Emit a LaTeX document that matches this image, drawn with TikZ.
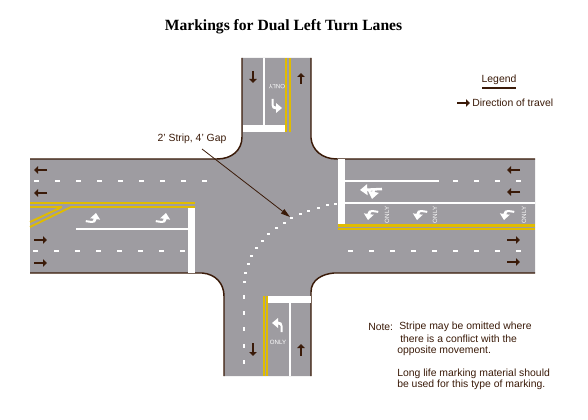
\documentclass[tikz,border=0pt]{standalone}
\usepackage{fontspec}
\setmainfont{Liberation Sans}
\newfontfamily\titlefont{Liberation Serif}
\usetikzlibrary{arrows.meta}
\definecolor{roadgray}{HTML}{9E9CA1}
\definecolor{edgebrown}{HTML}{3A1A08}
\definecolor{stripeyellow}{HTML}{E0BC00}
\tikzstyle{curb} = [draw=edgebrown, line width=1.1pt]
\tikzstyle{yline} = [draw=stripeyellow, line width=1.4pt]
\tikzstyle{wline} = [draw=white, line width=1.6pt]
\tikzstyle{bar} = [fill=white, draw=none]
\tikzstyle{travel} = [draw=edgebrown, line width=2pt, -{Triangle[length=3pt,width=5.5pt]}]
\tikzstyle{turn} = [draw=white, line width=1.9pt, -{Triangle[length=5.5pt,width=8pt]}]
\tikzstyle{lbl} = [text=edgebrown, font=\fontsize{7.8}{9}\selectfont, inner sep=0pt, anchor=west]
\tikzstyle{only} = [text=white, font=\fontsize{4.6}{5}\selectfont, inner sep=0pt]
\newcommand{\hdash}[2]{\fill[white] (#1,#2-1) rectangle ++(5,2);}
% tip at #1,#2, turned by #3
\newcommand{\turnmark}[3]{\fill[white, shift={(#1,#2)}, rotate=#3] (0,0) -- (5,6) -- (1.5,6)
  .. controls (1.5,9) and (0,10.5) .. (-3,10.5) -- (-9,10.5) -- (-9,8.5) -- (-3,8.5)
  .. controls (-2,8.5) and (-1.5,7.5) .. (-1.5,6) -- (-5,6) -- cycle;}
\begin{document}
\begin{tikzpicture}[x=0.75pt,y=-0.75pt]
\useasboundingbox (0,0) rectangle (588,420);
% pavement
\fill[roadgray] (30,159) -- (217,159) .. controls (232,159) and (242,150) .. (242,137) -- (242,58)
  -- (311,58) -- (311,138) .. controls (312,150) and (322,159) .. (337,159) -- (535,159)
  -- (535,273) -- (334,273) .. controls (322,274) and (311,280) .. (311,292) -- (311,376)
  -- (224,376) -- (224,296) .. controls (224,284) and (216,274) .. (202,273) -- (30,273) -- cycle;
\draw[curb] (30,159) -- (217,159) .. controls (232,159) and (242,150) .. (242,137) -- (242,58);
\draw[curb] (311,58) -- (311,138) .. controls (312,150) and (322,159) .. (337,159) -- (535,159);
\draw[curb] (535,273) -- (334,273) .. controls (322,274) and (311,280) .. (311,292) -- (311,376);
\draw[curb] (224,376) -- (224,296) .. controls (224,284) and (216,274) .. (202,273) -- (30,273);
% west leg
\foreach \x in {34,55,...,202} {\hdash{\x}{181}}
\foreach \x in {33,54,...,180} {\hdash{\x}{251}}
\draw[yline] (30,202.8) -- (195,202.8);
\draw[yline] (30,206.8) -- (62,206.8);
\draw[yline] (71,206.8) -- (195,206.8);
\draw[yline] (30,222) -- (62,207);
\draw[yline] (30,227) -- (71,207);
\fill[bar] (188,208) rectangle (195,273);
\draw[wline] (76,229) -- (188,229);
\turnmark{96}{213}{-8}
\turnmark{166}{213}{-8}
\draw[travel] (47,170) -- (34,170);
\draw[travel] (47,193) -- (34,193);
\draw[travel] (34,240) -- (47,240);
\draw[travel] (34,263) -- (47,263);
% east leg
\fill[bar] (338,159) rectangle (345,224);
\draw[wline] (345,181) -- (439,181);
\foreach \x in {453,474,...,516} {\hdash{\x}{181}}
\draw[wline] (345,203) -- (535,203);
\foreach \x in {348,369,...,516} {\hdash{\x}{251}}
\draw[yline, line width=1.8pt] (338,225.3) -- (535,225.3);
\draw[yline, line width=1.8pt] (338,228.7) -- (535,228.7);
\draw[turn] (382,189) -- (360,190);
\draw[turn] (374,189) -- (372,199);
\foreach \x/\o in {368/387,417/435,504/524} {
  \turnmark{\x}{220}{172}
  \node[only, rotate=90] (only\o) at (\o,215) {ONLY};
}
\draw[travel] (520,170) -- (507,170);
\draw[travel] (520,192) -- (507,192);
\draw[travel] (507,240) -- (520,240);
\draw[travel] (507,262) -- (520,262);
% north leg
\draw[wline] (264,58) -- (264,126);
\fill[bar] (243,125) rectangle (285,132);
\draw[yline] (286,58) -- (286,132);
\draw[yline] (290,58) -- (290,132);
\node[only, rotate=180] (onlyn) at (277,87) {ONLY};
\turnmark{282}{108}{-90}
\draw[travel] (253,71) -- (253,83);
\draw[travel] (301,84) -- (301,73);
% south leg
\draw[yline] (264,296) -- (264,376);
\draw[yline] (267,296) -- (267,376);
\fill[bar] (268,296) rectangle (311,303);
\draw[wline] (290,303) -- (290,376);
\node[only] (onlys) at (278,342) {ONLY};
\turnmark{272}{323}{90}
\draw[travel] (253,343) -- (253,356);
\draw[travel] (301,356) -- (301,344);
% turn guide
\foreach \y in {297,313,329,346,362} {\fill[white] (243,\y-2) rectangle ++(2,4);}
\foreach \x/\y in {244/282,245/273,248/264,251/256,256/248,262/241,268/234,276/228,284/223,291/218,300/214,308/211,318/208,327/205,335/204}
  {\fill[white] (\x-1.5,\y-1) rectangle ++(3,2);}
% labels
\node[font=\titlefont\bfseries\fontsize{11.7}{13}\selectfont, text=black, inner sep=0pt] (title) at (283.5,27) {Markings for Dual Left Turn Lanes};
\node[lbl, anchor=center] (strip) at (192,139) {2' Strip, 4' Gap};
\coordinate (striptail) at (202,149);
\coordinate (striptip) at (290,217);
\draw[edgebrown, line width=0.6pt, -{Triangle[length=7pt,width=4pt]}] (striptail) -- (striptip);
\node[lbl, anchor=center] (legend) at (499,80) {Legend};
\draw[edgebrown, line width=0.8pt] (482,88) -- (516,88);
\draw[travel] (457,103) -- (470,103);
\node[lbl] (direction) at (472,103) {Direction of travel};
\node[lbl] (note) at (368,327) {Note:};
\node[lbl] (n1) at (399,327) {Stripe may be omitted where};
\node[lbl] (n2) at (400,339) {there is a conflict with the};
\node[lbl] (n3) at (397,351) {opposite movement.};
\node[lbl] (n4) at (397,374) {Long life marking material should};
\node[lbl] (n5) at (397,385) {be used for this type of marking.};
\end{tikzpicture}
\end{document}
